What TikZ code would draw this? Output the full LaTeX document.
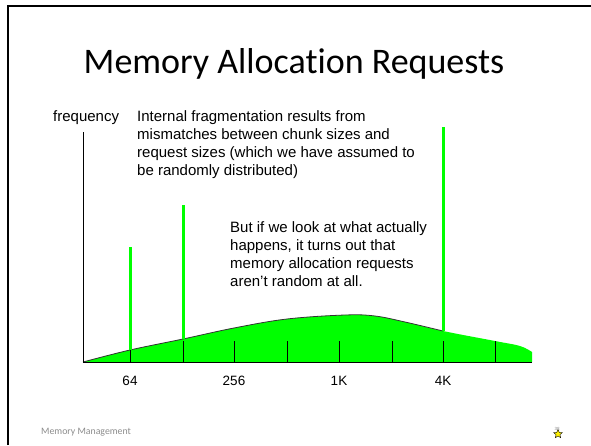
\documentclass[tikz,border=0pt]{standalone}
\usepackage{fontspec}
\setmainfont{Liberation Sans}
\newfontfamily\titlefont[Ligatures=NoCommon]{Carlito}
\usetikzlibrary{shapes.geometric}
\definecolor{spikegreen}{RGB}{0,255,0}
\definecolor{footgray}{RGB}{140,140,140}
\tikzset{
  bodytext/.style={anchor=north west, inner sep=0pt, align=left, font=\fontsize{15}{18}\selectfont},
  spike/.style={draw=spikegreen, line width=3pt},
  tick/.style={draw=black, line width=0.9pt},
  axislabel/.style={anchor=base, inner sep=0pt, font=\fontsize{13.5}{15}\selectfont},
}
\begin{document}
\begin{tikzpicture}[x=1pt,y=-1pt]
\useasboundingbox (0,0) rectangle (591,445);
\fill[white] (0,0) rectangle (591,445);
% slide border
\draw[line width=2pt] (8,445) -- (8,6) -- (591,6);
% title
\node[anchor=base, inner sep=0pt, font=\titlefont\fontsize{36}{40}\selectfont] (title) at (294,73) {Memory Allocation Requests};
% green distribution
\fill[spikegreen] plot[smooth, tension=0.6] coordinates {(83,362) (130,350) (183,339) (234,328) (287,319) (345,315) (375,316) (405,322) (443,331) (495,341) (520,346) (532,352)} -- (532,362) -- cycle;
\draw[black!80, line width=0.8pt] plot[smooth, tension=0.6] coordinates {(83,362) (130,350) (183,339) (234,328) (287,319) (345,315) (375,316) (405,322) (443,331)};
% axes
\coordinate (origin) at (83,362);
\coordinate (ytop) at (83,132);
\coordinate (xend) at (532,362);
\draw[line width=1pt] (ytop) -- (origin) -- (xend);
% ticks
\foreach \x in {130,183,234,287,339,392,443,495}{
  \draw[tick] (\x,341) -- (\x,362);
}
% spikes
\draw[spike] (130,247) -- (130,350);
\draw[spike] (183,205) -- (183,339);
\draw[spike] (443,127) -- (443,331);
% labels
\node[anchor=base west, inner sep=0pt, font=\fontsize{15}{17}\selectfont] (freq) at (53,121) {frequency};
\node[bodytext] (t1) at (137,110) {Internal fragmentation results from\\mismatches between chunk sizes and\\request sizes (which we have assumed to\\be randomly distributed)};
\node[bodytext] (t2) at (230,221) {But if we look at what actually\\happens, it turns out that\\memory allocation requests\\aren’t random at all.};
\node[axislabel] (l64) at (130,385) {64};
\node[axislabel] (l256) at (234,385) {256};
\node[axislabel] (l1k) at (339,385) {1K};
\node[axislabel] (l4k) at (443,385) {4K};
% footer
\node[anchor=west, inner sep=0pt, text=footgray, font=\titlefont\fontsize{9.8}{11}\selectfont] (foot) at (41,432) {Memory Management};
\node[star, star points=5, star point ratio=2.2, fill=yellow, draw=black, line width=0.4pt, minimum size=9pt, inner sep=0pt] (starmark) at (558,434) {};
\node[inner sep=0pt, text=footgray, font=\fontsize{4.5}{5}\selectfont] (num) at (557,429) {38};
\end{tikzpicture}
\end{document}
